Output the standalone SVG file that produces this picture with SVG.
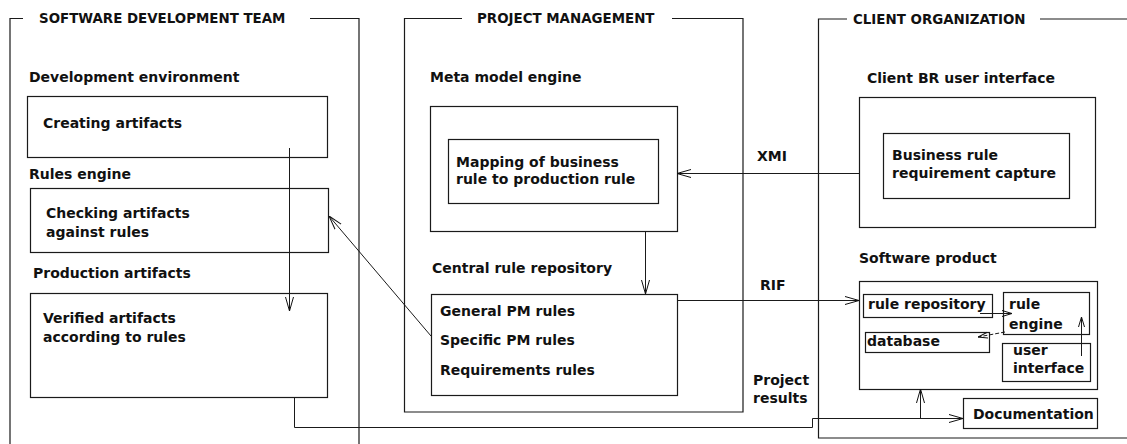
<svg xmlns="http://www.w3.org/2000/svg" width="1127" height="444" viewBox="0 0 1127 444">
<style>
.b{fill:none;stroke:#1a1a1a;stroke-width:1.2}
.c{fill:none;stroke:#1a1a1a;stroke-width:1}
.t{font-family:"DejaVu Sans",sans-serif;font-weight:bold;font-size:14px;fill:#111}
.h{font-family:"DejaVu Sans",sans-serif;font-weight:bold;font-size:13.4px;fill:#111}
</style>
<defs>
<marker id="arr" viewBox="0 0 14 10" refX="14" refY="5" markerWidth="14" markerHeight="10" orient="auto" markerUnits="userSpaceOnUse">
<path d="M0,1 L14,5 L0,9" fill="none" stroke="#111" stroke-width="1"/>
</marker>
<marker id="arrs" viewBox="0 0 10 8" refX="10" refY="4" markerWidth="10" markerHeight="8" orient="auto" markerUnits="userSpaceOnUse">
<path d="M0,1 L10,4 L0,7" fill="none" stroke="#111" stroke-width="1"/>
</marker>
</defs>
<rect width="1127" height="444" fill="#fff"/>

<g id="team">
<path class="b" d="M10,444 V18.5 H23 M310,18.5 H359 V444"/>
<text class="h" x="39" y="23">SOFTWARE DEVELOPMENT TEAM</text>
</g>
<g id="pm">
<path class="b" d="M462,18.5 H404.5 V412 H743 V18.5 H672"/>
<text class="h" x="477" y="23">PROJECT MANAGEMENT</text>
</g>
<g id="client">
<path class="b" d="M847,19 H818.5 V438 H1127 M1040,19 H1127"/>
<text class="h" x="853" y="24">CLIENT ORGANIZATION</text>
</g>

<g id="dev-env">
<text class="t" x="29" y="82">Development environment</text>
<rect class="b" x="27.5" y="96.5" width="300" height="61"/>
<text class="t" x="43" y="128">Creating artifacts</text>
</g>
<g id="rules-engine">
<text class="t" x="29" y="179">Rules engine</text>
<rect class="b" x="30.5" y="188.5" width="298" height="64"/>
<text class="t" x="46" y="218">Checking artifacts</text>
<text class="t" x="46" y="237">against rules</text>
</g>
<g id="production">
<text class="t" x="33" y="278">Production artifacts</text>
<rect class="b" x="30.5" y="293.5" width="297" height="104"/>
<text class="t" x="43" y="323">Verified artifacts</text>
<text class="t" x="43" y="342">according to rules</text>
</g>

<g id="meta">
<text class="t" x="430" y="82">Meta model engine</text>
<rect class="b" x="430.5" y="106.5" width="247" height="125"/>
<rect class="b" x="448.5" y="139.5" width="210" height="64"/>
<text class="t" x="456" y="167">Mapping of business</text>
<text class="t" x="456" y="184">rule to production rule</text>
</g>
<g id="central">
<text class="t" x="432" y="273">Central rule repository</text>
<rect class="b" x="431.5" y="294.5" width="246" height="101"/>
<text class="t" x="440" y="316">General PM rules</text>
<text class="t" x="440" y="345">Specific PM rules</text>
<text class="t" x="440" y="375">Requirements rules</text>
</g>

<g id="client-ui">
<text class="t" x="867" y="83">Client BR user interface</text>
<rect class="b" x="859.5" y="97.5" width="236" height="130"/>
<rect class="b" x="883.5" y="133.5" width="186" height="65"/>
<text class="t" x="892" y="160">Business rule</text>
<text class="t" x="892" y="178">requirement capture</text>
</g>
<g id="software">
<text class="t" x="859" y="263">Software product</text>
<rect class="b" x="859.5" y="281.5" width="238" height="108"/>
</g>
<g id="rule-repo">
<rect class="b" x="863.5" y="294.5" width="129" height="23"/>
<text class="t" x="868" y="309">rule repository</text>
</g>
<g id="rule-engine">
<rect class="b" x="1003.5" y="292.5" width="86" height="42"/>
<text class="t" x="1009" y="309">rule</text>
<text class="t" x="1009" y="329">engine</text>
</g>
<g id="database">
<rect class="b" x="865.5" y="332.5" width="124" height="20"/>
<text class="t" x="867" y="346">database</text>
</g>
<g id="user-interface">
<rect class="b" x="1002.5" y="343.5" width="88" height="38"/>
<text class="t" x="1013" y="355">user</text>
<text class="t" x="1013" y="373">interface</text>
</g>
<g id="documentation">
<rect class="b" x="963.5" y="398.5" width="134" height="30"/>
<text class="t" x="973" y="419">Documentation</text>
</g>

<g id="connectors">
<line class="c" x1="289.5" y1="148" x2="289.5" y2="311" marker-end="url(#arr)"/>
<line class="c" x1="431" y1="336" x2="329" y2="216" marker-end="url(#arr)"/>
<line class="c" x1="859" y1="173.5" x2="677" y2="173.5" marker-end="url(#arr)"/>
<line class="c" x1="645.5" y1="231" x2="645.5" y2="294" marker-end="url(#arr)"/>
<line class="c" x1="677" y1="300.5" x2="859" y2="300.5" marker-end="url(#arr)"/>
<line class="c" x1="980" y1="313.5" x2="1012" y2="313.5" marker-end="url(#arrs)"/>
<line class="c" x1="1005" y1="332" x2="978" y2="337" stroke-dasharray="4,2" marker-end="url(#arrs)"/>
<line class="c" x1="1081.5" y1="356" x2="1081.5" y2="317" marker-end="url(#arrs)"/>
<path class="c" d="M294.5,397 V427.5 H812.5 V418.5 H963" marker-end="url(#arr)"/>
<line class="c" x1="920.5" y1="418" x2="920.5" y2="389" marker-end="url(#arr)"/>
<text class="t" x="757" y="161">XMI</text>
<text class="t" x="760" y="290">RIF</text>
<text class="t" x="753" y="385">Project</text>
<text class="t" x="753" y="403">results</text>
</g>
</svg>
